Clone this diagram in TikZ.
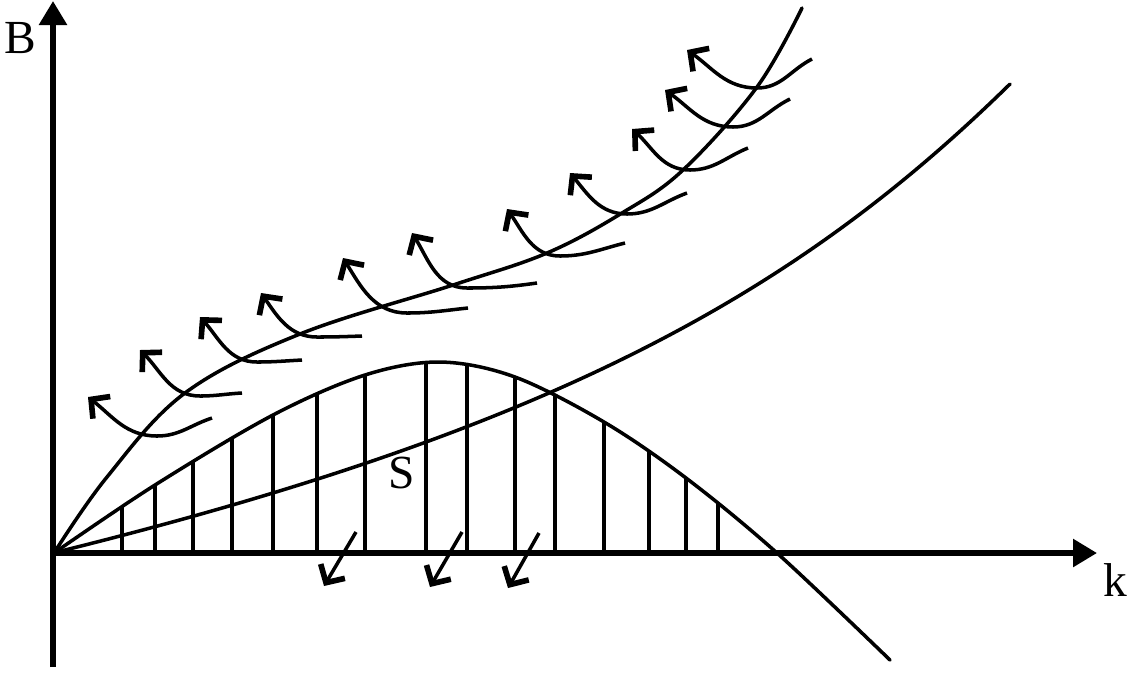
\documentclass[tikz,border=0pt]{standalone}
\usepackage{fontspec}
\setmainfont{Liberation Serif}
\usetikzlibrary{arrows.meta,positioning}

\begin{document}
\begin{tikzpicture}[
  x=0.01cm, y=-0.01cm,
  every node/.style={font=\fontsize{13.5}{16}\selectfont, inner sep=0pt},
  axis/.style={line width=1.6pt, -{Triangle[length=0.24cm, width=0.27cm]}},
  curve/.style={line width=1pt, line cap=round},
  hatch/.style={line width=1pt},
  flow/.style={line width=1pt, {Straight Barb[length=3.8pt, width=8pt, line width=1.6pt]}-},
  sink/.style={line width=1pt, -{Straight Barb[length=3.8pt, width=8pt, line width=1.6pt]}}
]
\useasboundingbox (0,0) rectangle (1131,672);

\coordinate (O) at (53,553);
\coordinate (ybot) at (53,667);
\coordinate (ytop) at (53,1);
\coordinate (xend) at (1097,553);
\coordinate (midend) at (1010,84);

\draw[axis] (ybot) -- (ytop);
\draw[axis] (O) -- (xend);
\node (Blabel) at (20,38) {B};
\node (klabel) at (1115,580) {k};
\node (Slabel) at (402,473) {S};

\draw[curve, save path=\humppath] plot[smooth, tension=0.55] coordinates {
  (54,553) (155,485) (273,415) (365,375) (440,362) (515,377)
  (604,422) (686,478) (777,553) (890,660)};
\begin{scope}
  \clip[use path=\humppath];
  \foreach \x in {122,155,193,232,273,317,365,426,467,515,555,604,649,686,718}
    \draw[hatch] (\x,553) -- (\x,340);
\end{scope}

\draw[curve] (O) .. controls (560,428) and (800,290) .. (midend);

\draw[curve] plot[smooth, tension=0.6] coordinates {
  (54,553) (107,477) (185,393) (300,334) (453,285) (547,253) (622,213)
  (683,170) (757,87) (802,8)};

\foreach \tx/\ty/\a/\bx/\by/\ex/\ey/\b in {
  88/397/-38/157/436/212/418/18,
  140/350/-45/200/396/242/393/3,
  200/317/-48/257/362/302/360/3,
  261/293/-55/317/337/362/336/2,
  343/258/-58/407/313/468/308/6,
  412/233/-58/467/288/537/283/8,
  507/209/-55/560/256/625/243/14,
  570/173/-50/627/214/687/193/20,
  632/129/-42/690/170/748/148/22,
  665/90/-35/733/127/790/99/26,
  687/50/-35/757/88/812/59/27}
  \draw[flow] (\tx,\ty) to[out=\a, in=180] (\bx,\by) to[out=0, in=180+\b] (\ex,\ey);

\draw[sink] (356,532) -- (324,586);
\draw[sink] (462,532) -- (430,587);
\draw[sink] (539,533) -- (508,588);
\end{tikzpicture}
\end{document}
